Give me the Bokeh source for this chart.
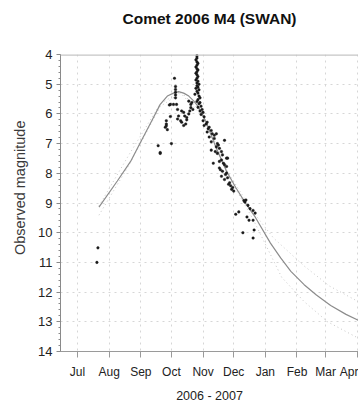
import pandas as pd
from bokeh.plotting import figure
from bokeh.models import (Range1d, Span, MonthsTicker, DatetimeTickFormatter,
                          SingleIntervalTicker, Title, LinearAxis, FixedTicker,
                          CustomJSTickFormatter)
from bokeh.embed import file_html
from bokeh.resources import INLINE

# ---- observations (date, observed magnitude) ----
obs_dates = [
    "2006-07-21", "2006-07-20",
    "2006-09-18", "2006-09-20", "2006-09-20",
    "2006-09-25", "2006-09-26", "2006-09-26", "2006-09-27", "2006-09-26",
    "2006-09-29", "2006-09-30", "2006-10-01",
    "2006-10-04", "2006-10-05", "2006-10-05", "2006-10-05", "2006-10-05", "2006-10-05",
    "2006-09-30", "2006-10-03", "2006-10-06", "2006-10-07", "2006-10-07",
    "2006-10-08", "2006-10-10", "2006-10-11", "2006-10-13", "2006-10-14", "2006-10-16",
    "2006-10-18", "2006-10-19", "2006-10-20", "2006-10-15", "2006-10-13", "2006-10-11",
    "2006-10-21", "2006-10-18", "2006-10-22", "2006-10-20", "2006-10-16",
    # spike
    "2006-10-26", "2006-10-26", "2006-10-26", "2006-10-25", "2006-10-26", "2006-10-27",
    "2006-10-26", "2006-10-25", "2006-10-26", "2006-10-27", "2006-10-26", "2006-10-25",
    "2006-10-26", "2006-10-27", "2006-10-26", "2006-10-25", "2006-10-27", "2006-10-26",
    "2006-10-28", "2006-10-26", "2006-10-27", "2006-10-25", "2006-10-28", "2006-10-26",
    "2006-10-27", "2006-10-24", "2006-10-28", "2006-10-29", "2006-10-27", "2006-10-26",
    "2006-10-29", "2006-10-28", "2006-10-30", "2006-10-27", "2006-10-31", "2006-10-29",
    "2006-11-01", "2006-10-30", "2006-11-02",
    # decline
    "2006-11-01", "2006-11-05", "2006-11-02", "2006-11-07", "2006-11-09", "2006-11-05",
    "2006-11-10", "2006-11-14", "2006-11-07", "2006-11-12", "2006-11-09", "2006-11-15",
    "2006-11-14", "2006-11-22", "2006-11-17", "2006-11-09", "2006-11-19", "2006-11-15",
    "2006-11-20", "2006-11-24", "2006-11-25", "2006-11-19", "2006-11-11", "2006-11-22",
    "2006-11-24", "2006-11-17", "2006-11-20", "2006-11-24", "2006-11-19", "2006-11-25",
    "2006-11-22", "2006-11-27", "2006-11-28", "2006-11-30", "2006-11-04", "2006-11-06",
    "2006-11-12", "2006-11-16", "2006-11-13", "2006-11-17", "2006-11-21", "2006-11-23",
    "2006-11-18", "2006-11-26", "2006-11-29", "2006-12-01",
    # December tail
    "2006-12-11", "2006-12-12", "2006-12-13", "2006-12-15", "2006-12-17", "2006-12-20",
    "2006-12-22", "2006-12-06", "2006-12-03", "2006-12-14", "2006-12-16", "2006-12-20",
    "2006-12-21", "2006-12-10", "2006-12-20",
]
obs_mags = [
    10.51, 11.00,
    7.07, 7.30, 7.33,
    6.45, 6.34, 6.23, 6.53, 6.40,
    5.70, 6.09, 7.00,
    4.80, 5.08, 5.18, 5.27, 5.36, 5.46,
    5.68, 5.68, 5.68, 5.85, 6.17,
    6.07, 6.23, 5.90, 5.95, 6.07, 6.12,
    6.00, 5.90, 5.79, 6.34, 6.39, 6.28,
    5.62, 5.57, 5.85, 5.68, 6.20,
    # spike
    3.97, 4.05, 4.12, 4.18, 4.25, 4.30,
    4.36, 4.42, 4.48, 4.52, 4.58, 4.63,
    4.68, 4.74, 4.80, 4.86, 4.90, 4.96,
    5.00, 5.05, 5.10, 5.14, 5.19, 5.24,
    5.30, 5.34, 5.40, 5.46, 5.52, 5.58,
    5.62, 5.66, 5.74, 5.78, 5.85, 5.90,
    5.95, 6.02, 6.10,
    # decline
    6.23, 6.28, 6.39, 6.45, 6.56, 6.61,
    6.67, 6.67, 6.78, 6.83, 6.94, 7.00,
    7.11, 6.89, 7.16, 7.22, 7.27, 7.33,
    7.38, 7.49, 7.49, 7.55, 7.66, 7.71,
    7.77, 7.82, 7.93, 7.99, 8.10, 8.15,
    8.21, 8.32, 8.42, 8.48, 6.34, 6.50,
    6.72, 7.05, 7.27, 7.60, 7.66, 8.04,
    7.88, 8.37, 8.54, 8.60,
    # December tail
    8.92, 8.97, 8.90, 9.08, 9.19, 9.25,
    9.34, 9.30, 9.38, 9.47, 9.58, 9.58,
    9.91, 10.00, 10.18,
]

# ---- model light curve (solid) ----
model_dates = ["2006-07-22", "2006-08-09", "2006-08-22", "2006-09-01", "2006-09-11",
               "2006-09-20", "2006-09-27", "2006-10-03", "2006-10-08", "2006-10-13",
               "2006-10-18", "2006-10-23", "2006-10-28", "2006-11-04", "2006-11-14",
               "2006-11-24", "2006-12-03", "2006-12-13", "2006-12-22", "2007-01-06",
               "2007-01-16", "2007-01-26", "2007-02-08", "2007-02-20", "2007-03-06",
               "2007-03-21", "2007-04-02"]
model_mags = [9.14, 8.26, 7.60, 6.94, 6.28,
              5.68, 5.40, 5.30, 5.25, 5.30,
              5.40, 5.57, 5.79, 6.28, 7.16,
              7.93, 8.48, 9.03, 9.47, 10.35,
              10.85, 11.30, 11.75, 12.10, 12.45,
              12.75, 12.95]

# ---- envelope curves (dotted) ----
upper_dates = ["2006-07-22", "2006-08-20", "2006-09-20", "2006-10-10", "2006-11-01",
               "2006-11-25", "2006-12-20", "2007-01-09", "2007-02-08", "2007-03-05",
               "2007-04-02"]
upper_mags = [9.10, 7.40, 5.66, 5.25, 6.00, 7.95, 9.30, 10.18, 11.12, 11.80, 12.32]
lower_dates = ["2006-07-22", "2006-08-20", "2006-09-20", "2006-10-10", "2006-11-01",
               "2006-11-25", "2006-12-20", "2007-01-17", "2007-02-08", "2007-03-03",
               "2007-04-02"]
lower_mags = [9.41, 7.75, 5.75, 5.30, 6.10, 8.05, 9.55, 11.50, 12.32, 13.00, 13.55]

title_text = "Comet 2006 M4 (SWAN)"
x_label = "2006 - 2007"
y_label = "Observed magnitude"

to_dt = pd.to_datetime

p = figure(width=358, height=405, x_axis_type="datetime",
           x_range=Range1d(to_dt("2006-06-14 08:00"), to_dt("2007-04-02 06:00")),
           y_range=Range1d(14, 4),
           output_backend="svg", toolbar_location=None,
           min_border_left=60, min_border_right=0, min_border_top=54, min_border_bottom=48)

# keep explicit references to the real axes
xa = p.below[0]
ya = p.left[0]

# an invisible axis above the frame (one hidden tick, empty label) acts as a spacer
spacer_tick = pd.Timestamp("2006-11-01").value // 10**6
spacer = LinearAxis(ticker=FixedTicker(ticks=[spacer_tick]),
                    formatter=CustomJSTickFormatter(code="return ''"),
                    axis_line_color=None, major_tick_line_color=None,
                    minor_tick_line_color=None, major_tick_out=28, major_tick_in=0,
                    minor_tick_out=0, major_label_standoff=0,
                    major_label_text_font_size="1px")
p.add_layout(spacer, "above")
p.add_layout(Title(text=title_text, align="center", standoff=0,
                   text_font="Liberation Sans", text_font_size="15.5px",
                   text_font_style="bold", text_color="#111111"), "above")

p.outline_line_color = None
p.background_fill_color = "white"
p.border_fill_color = "white"

# grids
p.xgrid.grid_line_color = "#d6d6d6"
p.xgrid.grid_line_dash = "2 4"
p.ygrid.grid_line_color = "#d6d6d6"
p.ygrid.grid_line_dash = "2 4"

# x axis (bottom)
xa.ticker = MonthsTicker(months=list(range(12)))
xa.formatter = DatetimeTickFormatter(months="%b", days="%b", years="%b")
xa.axis_label = x_label
xa.axis_label_text_font = "Liberation Sans"
xa.axis_label_text_font_size = "12.5px"
xa.axis_label_text_font_style = "normal"
xa.axis_label_text_color = "#222222"
xa.axis_label_standoff = 7
xa.major_label_text_font = "Liberation Sans"
xa.major_label_text_font_size = "12px"
xa.major_label_text_color = "#222222"
xa.major_label_standoff = 7
xa.axis_line_color = "#9a9a9a"
xa.major_tick_line_color = "#9a9a9a"
xa.major_tick_out = 6
xa.major_tick_in = 0
xa.minor_tick_line_color = None

# y axis (left)
ya.ticker = SingleIntervalTicker(interval=1, num_minor_ticks=5)
ya.major_label_text_font = "Liberation Sans"
ya.major_label_text_font_size = "13px"
ya.major_label_text_color = "#222222"
ya.major_label_standoff = 4
ya.axis_line_color = "#8a8a8a"
ya.major_tick_line_color = "#8a8a8a"
ya.minor_tick_line_color = "#8a8a8a"
ya.major_tick_out = 4
ya.major_tick_in = 0
ya.minor_tick_out = 2
ya.minor_tick_in = 0

# y axis title (side title so it can sit off-centre like the original)
p.add_layout(Title(text=y_label, align="right", offset=66, vertical_align="bottom",
                   standoff=16, text_font="Liberation Sans", text_font_size="14.5px",
                   text_font_style="normal", text_color="#3a3a3a"), "left")

# top border line
p.add_layout(Span(location=4, dimension="width", line_color="#c6c6c6", line_width=2.5))

# curves
p.line(to_dt(upper_dates), upper_mags, line_color="#c8c8c8", line_width=1, line_dash="1 3")
p.line(to_dt(lower_dates), lower_mags, line_color="#c8c8c8", line_width=1, line_dash="1 3")
p.line(to_dt(model_dates), model_mags, line_color="#8c8c8c", line_width=1.2)

# observations
p.scatter(to_dt(obs_dates), obs_mags, size=2.6, marker="circle",
          fill_color="#1a1a1a", line_color="#1a1a1a", line_width=0.4)

open("out.html", "w").write(file_html(p, INLINE))
